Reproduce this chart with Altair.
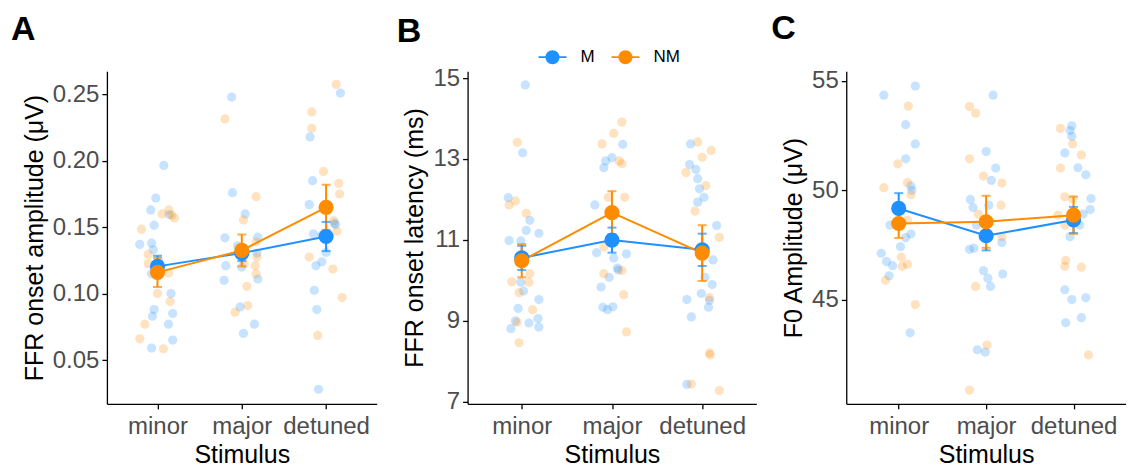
import altair as alt
import pandas as pd

STIMULI = ["minor", "major", "detuned"]
GROUPS = ["M", "NM"]
COLORS = ["#1E90FF", "#FF8C00"]

# ---------- Panel A: FFR onset amplitude (uV) ; (value, jitter) ----------
A_M_MINOR = [(0.137, -0.21), (0.163, -0.08), (0.172, -0.02), (0.1515, -0.04), (0.1965, 0.075),
             (0.138, -0.07), (0.133, -0.05), (0.115, -0.07), (0.1595, 0.14), (0.100, 0.16),
             (0.085, 0.18), (0.088, -0.04), (0.083, -0.06), (0.077, 0.13), (0.065, 0.18),
             (0.059, -0.07), (0.125, 0.01)]
A_NM_MINOR = [(0.1485, -0.19), (0.066, -0.21), (0.077, -0.15), (0.1295, -0.11), (0.1225, -0.11),
              (0.160, 0.055), (0.163, 0.135), (0.157, 0.20), (0.1155, 0.13), (0.100, 0.0),
              (0.094, 0.15), (0.0585, 0.07), (0.159, 0.17)]
A_M_MAJOR = [(0.248, -0.12), (0.176, -0.11), (0.160, 0.04), (0.142, -0.20), (0.1425, 0.19),
             (0.121, -0.19), (0.110, -0.21), (0.111, 0.19), (0.090, -0.02), (0.070, 0.02),
             (0.077, 0.15), (0.120, 0.0), (0.1305, 0.18), (0.136, -0.05)]
A_NM_MAJOR = [(0.2315, -0.20), (0.173, 0.17), (0.1555, 0.02), (0.139, 0.17), (0.1275, 0.18),
              (0.121, 0.16), (0.115, 0.17), (0.1055, 0.06), (0.091, 0.07), (0.086, -0.08),
              (0.1225, 0.03)]
A_M_DETUNED = [(0.251, 0.17), (0.218, -0.19), (0.185, -0.16), (0.167, -0.20), (0.153, 0.10),
               (0.145, -0.15), (0.144, -0.05), (0.131, 0.0), (0.124, -0.05), (0.121, -0.12),
               (0.1025, -0.14), (0.088, -0.11), (0.028, -0.09), (0.152, 0.11)]
A_NM_DETUNED = [(0.2575, 0.12), (0.2368, -0.17), (0.2245, -0.17), (0.192, -0.03), (0.183, 0.15),
                (0.175, 0.16), (0.155, 0.09), (0.147, 0.13), (0.1275, -0.20), (0.1185, 0.08),
                (0.097, 0.19), (0.0685, -0.10)]
A_MEAN_M = [0.1205, 0.1305, 0.143]
A_SE_M = [0.008, 0.006, 0.011]
A_MEAN_NM = [0.116, 0.1325, 0.165]
A_SE_NM = [0.011, 0.012, 0.017]

# ---------- Panel B: FFR onset latency (ms) ----------
B_M_MINOR = [(14.83, 0.04), (13.15, 0.01), (12.04, -0.15), (10.98, -0.14), (10.97, -0.01),
             (11.23, 0.05), (11.48, 0.09), (11.16, 0.19), (9.95, -0.01), (9.73, 0.02),
             (9.52, 0.19), (9.30, -0.04), (9.05, 0.18), (8.99, -0.07), (8.94, 0.08),
             (8.80, -0.12), (8.84, 0.19)]
B_NM_MINOR = [(13.41, -0.05), (11.86, -0.14), (11.96, -0.07), (11.65, 0.05), (10.16, 0.09),
              (9.96, -0.11), (9.95, 0.08), (9.69, -0.03), (9.27, 0.12), (8.96, -0.05),
              (8.45, -0.03)]
B_M_MAJOR = [(13.36, 0.12), (13.03, 0.0), (12.95, -0.07), (12.78, -0.09), (11.86, -0.19),
             (10.68, -0.17), (10.65, 0.16), (10.55, 0.02), (10.30, 0.06), (10.07, -0.03),
             (9.83, -0.12), (9.33, -0.10), (9.27, -0.05), (9.34, 0.01), (10.25, 0.07)]
B_NM_MAJOR = [(13.91, 0.11), (13.63, 0.02), (13.37, -0.11), (12.95, 0.08), (12.88, 0.11),
              (12.05, -0.04), (12.05, 0.14), (10.82, -0.09), (10.16, -0.09), (10.24, 0.11),
              (9.64, 0.13), (8.72, 0.16)]
B_M_DETUNED = [(13.37, -0.13), (12.86, -0.14), (12.74, -0.07), (12.51, -0.05), (12.26, -0.03),
               (12.05, 0.02), (11.93, -0.05), (11.35, 0.16), (10.50, 0.12), (10.07, 0.03),
               (9.89, 0.11), (9.67, -0.01), (9.52, -0.17), (9.50, 0.08), (9.33, 0.07),
               (9.09, -0.12), (7.42, -0.17)]
B_NM_DETUNED = [(13.42, -0.05), (13.21, 0.10), (13.04, 0.0), (12.66, -0.18), (12.34, 0.04),
                (11.71, -0.08), (11.06, 0.19), (9.57, 0.08), (8.20, 0.08), (8.15, 0.09),
                (7.43, -0.12), (7.27, 0.19)]
B_MEAN_M = [10.55, 10.99, 10.75]
B_SE_M = [0.30, 0.31, 0.40]
B_MEAN_NM = [10.48, 11.67, 10.67]
B_SE_NM = [0.41, 0.53, 0.69]

# ---------- Panel C: F0 Amplitude (uV) ----------
C_M_MINOR = [(54.35, -0.17), (54.77, 0.19), (53.00, 0.08), (52.12, 0.19), (51.44, 0.08),
             (50.20, 0.14), (50.00, 0.15), (48.41, -0.10), (48.00, 0.14), (47.83, 0.08),
             (47.42, 0.02), (47.12, -0.20), (46.74, -0.14), (46.55, -0.07), (46.09, -0.11),
             (43.48, 0.13)]
C_NM_MINOR = [(53.85, 0.11), (51.21, -0.01), (50.35, 0.10), (50.12, -0.17), (49.80, 0.14),
              (48.64, 0.10), (46.94, 0.03), (46.52, 0.04), (46.62, 0.10), (45.88, -0.15),
              (44.77, 0.19)]
C_M_MAJOR = [(54.35, 0.08), (51.77, 0.0), (51.02, 0.11), (50.45, 0.06), (49.58, -0.18),
             (49.21, -0.15), (49.32, 0.03), (48.41, -0.11), (47.61, 0.18), (47.30, -0.19),
             (47.35, -0.14), (46.32, -0.03), (45.98, 0.02), (45.60, 0.05), (46.17, 0.19),
             (42.70, -0.10), (42.60, -0.01)]
C_NM_MAJOR = [(53.83, -0.19), (53.53, -0.12), (51.44, -0.19), (50.65, -0.03), (50.33, 0.18),
              (49.32, 0.17), (48.91, -0.09), (47.88, 0.18), (45.60, -0.12), (42.92, 0.01),
              (40.86, -0.19)]
C_M_DETUNED = [(52.95, -0.02), (52.73, -0.04), (52.47, -0.02), (51.71, -0.10), (51.03, 0.05),
               (50.71, 0.14), (49.62, 0.20), (49.12, 0.19), (48.91, 0.11), (47.88, -0.04),
               (48.41, 0.07), (45.45, -0.10), (45.00, -0.02), (45.08, 0.14), (44.17, 0.09),
               (43.94, -0.09)]
C_NM_DETUNED = [(52.83, -0.15), (52.12, -0.01), (51.62, 0.09), (51.02, -0.15), (49.70, -0.10),
                (48.86, -0.18), (48.41, -0.10), (46.79, -0.09), (46.52, -0.10), (46.48, 0.09),
                (42.47, 0.17), (49.59, -0.01)]
C_MEAN_M = [49.17, 47.92, 48.64]
C_SE_M = [0.70, 0.67, 0.60]
C_MEAN_NM = [48.48, 48.56, 48.86]
C_SE_NM = [0.66, 1.19, 0.85]

FONT = "Liberation Sans"


def points_df(m_lists, nm_lists):
    rows = []
    for grp, lists in (("M", m_lists), ("NM", nm_lists)):
        for i, (stim, pts) in enumerate(zip(STIMULI, lists)):
            for val, jit in pts:
                rows.append({"stim": stim, "group": grp, "x": i + 1 + jit, "value": val})
    return pd.DataFrame(rows)


def means_df(mean_m, se_m, mean_nm, se_nm):
    rows = []
    for grp, means, ses in (("M", mean_m, se_m), ("NM", mean_nm, se_nm)):
        for i, (stim, mu, se) in enumerate(zip(STIMULI, means, ses)):
            rows.append({"stim": stim, "group": grp, "x": i + 1, "mean": mu,
                         "lo": mu - se, "hi": mu + se})
    return pd.DataFrame(rows)


LABEL_EXPR = " : ".join(
    f"datum.value == {i + 1} ? '{s}'" for i, s in enumerate(STIMULI[:-1])
) + f" : '{STIMULI[-1]}'"

LEGEND_SYMBOL = ("M-1,-0.06 L1,-0.06 L1,0.06 L-1,0.06 Z "
                 "M0.5,0 A0.5,0.5 0 1,1 -0.5,0 A0.5,0.5 0 1,1 0.5,0 Z")

COLOR = alt.Color(
    "group:N", scale=alt.Scale(domain=GROUPS, range=COLORS),
    legend=alt.Legend(
        title=None, orient="none", direction="horizontal",
        legendX=432, legendY=-28,
        symbolType=LEGEND_SYMBOL,
        symbolSize=784, symbolStrokeWidth=0, symbolOpacity=1,
        labelFont=FONT, labelFontSize=17, labelColor="#000000",
        labelOffset=14, columnPadding=16,
    ))


def panel(pts, means, ytitle, domain, ticks, fmt, letter, width, title_offset, title_dx):
    xenc = alt.X("x:Q", scale=alt.Scale(domain=[0.4, 3.6], nice=False, zero=False),
                 axis=alt.Axis(values=[1, 2, 3], labelExpr=LABEL_EXPR, title="Stimulus"))
    yscale = alt.Scale(domain=domain, nice=False, zero=False)
    yaxis = alt.Axis(values=ticks, format=fmt, title=ytitle)
    col = COLOR

    raw = alt.Chart(pts).mark_circle(size=85, opacity=0.25).encode(
        x=xenc, y=alt.Y("value:Q", scale=yscale, axis=yaxis), color=col)
    base = alt.Chart(means)
    line = base.mark_line(strokeWidth=2).encode(
        x="x:Q", y=alt.Y("mean:Q"), color=col, detail="group:N")
    bars = base.mark_rule(strokeWidth=2).encode(
        x="x:Q", y="lo:Q", y2="hi:Q", color=col)
    cap_lo = base.mark_tick(orient="horizontal", size=9, thickness=2).encode(
        x="x:Q", y="lo:Q", color=col)
    cap_hi = base.mark_tick(orient="horizontal", size=9, thickness=2).encode(
        x="x:Q", y="hi:Q", color=col)
    dots = base.mark_circle(size=230, opacity=1).encode(
        x="x:Q", y="mean:Q", color=col)
    return alt.layer(raw, line, bars, cap_lo, cap_hi, dots).properties(
        width=width, height=333,
        title=alt.TitleParams(letter, anchor="start", frame="group", font=FONT, fontSize=34,
                              fontWeight="bold", color="#000000", dx=title_dx,
                              offset=title_offset),
    )


pa = panel(points_df([A_M_MINOR, A_M_MAJOR, A_M_DETUNED], [A_NM_MINOR, A_NM_MAJOR, A_NM_DETUNED]),
           means_df(A_MEAN_M, A_SE_M, A_MEAN_NM, A_SE_NM),
           "FFR onset amplitude (μV)", [0.017, 0.2675], [0.05, 0.10, 0.15, 0.20, 0.25], ".2f",
           "A", 270, 24, -96)
pb = panel(points_df([B_M_MINOR, B_M_MAJOR, B_M_DETUNED], [B_NM_MINOR, B_NM_MAJOR, B_NM_DETUNED]),
           means_df(B_MEAN_M, B_SE_M, B_MEAN_NM, B_SE_NM),
           "FFR onset latency (ms)", [6.94, 15.17], [7, 9, 11, 13, 15], "d",
           "B", 289, 17, -71)
pc = panel(points_df([C_M_MINOR, C_M_MAJOR, C_M_DETUNED], [C_NM_MINOR, C_NM_MAJOR, C_NM_DETUNED]),
           means_df(C_MEAN_M, C_SE_M, C_MEAN_NM, C_SE_NM),
           "F0 Amplitude (μV)", [40.23, 55.45], [45, 50, 55], "d",
           "C", 280, 23, -75)

chart = alt.hconcat(alt.hconcat(pa, pb, spacing=20), pc, spacing=15).properties(
    padding={"left": 3, "top": 3, "right": 0, "bottom": 0}
).configure_view(stroke=None).configure_axis(
    grid=False, domainColor="#000000", domainWidth=1.3, tickColor="#000000", tickWidth=1.3,
    tickSize=5, labelFont=FONT, labelFontSize=24, labelColor="#4D4D4D", labelPadding=3,
    titleFont=FONT, titleFontSize=25, titleFontWeight="normal", titleColor="#000000",
    titlePadding=5,
).configure_axisX(labelPadding=6, titlePadding=4)

chart.save("out.html", embed_options={"renderer": "svg", "actions": False})
